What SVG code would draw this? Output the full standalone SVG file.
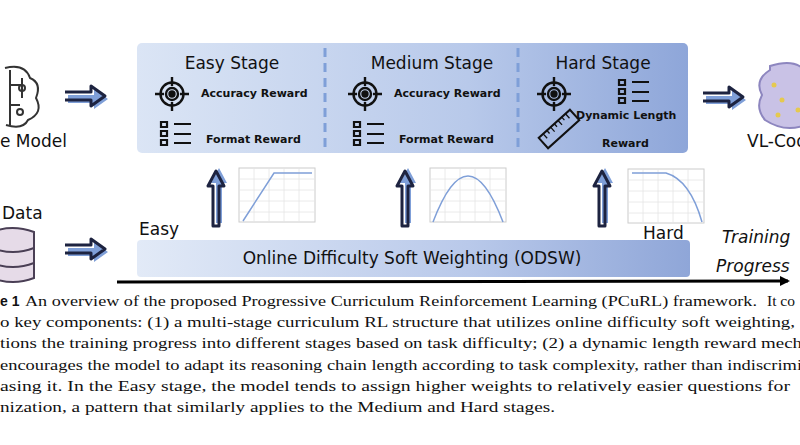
<svg xmlns="http://www.w3.org/2000/svg" width="800" height="445" viewBox="0 0 800 445">
<defs>
<linearGradient id="gp" x1="0" x2="1" y1="0" y2="0"><stop offset="0" stop-color="#dbe5f5"/><stop offset="0.6" stop-color="#b8c9ea"/><stop offset="1" stop-color="#8ea6d9"/></linearGradient>
<linearGradient id="gb" x1="0" x2="1" y1="0" y2="0"><stop offset="0" stop-color="#e2eaf7"/><stop offset="0.6" stop-color="#b9c9ea"/><stop offset="1" stop-color="#8fa6d8"/></linearGradient>
<marker id="ah" markerWidth="10" markerHeight="10" refX="8" refY="5" orient="auto" markerUnits="userSpaceOnUse"><path d="M0,0 L10,5 L0,10 Z" fill="#000"/></marker>
<g id="rarrow"><path d="M0,-4 H26 V-10 L40,0 L26,10 V4 H0 Z" fill="#7f9fd8" transform="translate(3,3)"/><path d="M0,-4 H26 V-10 L40,0 L26,10 V4 H0" fill="none" stroke="#1d2340" stroke-width="3" stroke-linejoin="round"/></g>
<g id="uarrow"><path d="M-3,0 V-40 H-8 L0,-55 L8,-40 H3 V0 Z" fill="#7f9fd8" transform="translate(3,-3)"/><path d="M-3,0 V-40 H-8 L0,-55 L8,-40 H3 V0 Z" fill="none" stroke="#1d2340" stroke-width="3" stroke-linejoin="round"/></g>
<g id="target" fill="none" stroke="#111" stroke-width="2.4"><circle r="11.5"/><circle r="6"/><circle r="2.5" fill="#111"/><path d="M0,-17 V-8 M0,8 V17 M-17,0 H-8 M8,0 H17"/></g>
<g id="list" fill="none" stroke="#111" stroke-width="2.2"><path d="M-13,-12 h6 v5 h-6 z M-13,-3 h6 v5 h-6 z M-13,6 h6 v5 h-6 z M0,-10 H17 M0,0 H17 M0,9 H17"/></g>
<g id="chartgrid"><rect width="76" height="54" fill="#fff" stroke="#ccc"/><path d="M15,0 V54 M30,0 V54 M45,0 V54 M60,0 V54 M0,11 H76 M0,22 H76 M0,33 H76 M0,44 H76" stroke="#e4e4e4" stroke-width="0.8"/></g>
</defs>
<style>
.t{font-family:"DejaVu Sans",sans-serif;fill:#111}
.ttl{font-size:17px}
.rw{font-size:11px;font-weight:bold}
.cap{font-family:"Liberation Serif",serif;font-size:15.5px;fill:#111}
.crv{fill:none;stroke:#7f9fd8;stroke-width:1.5}
</style>
<rect width="800" height="445" fill="#fff"/>

<g id="panel">
<rect x="137" y="43" width="551" height="110" rx="5" fill="url(#gp)"/>
<path d="M325,48 V150 M518,48 V150" stroke="#7f9fd8" stroke-width="3" stroke-dasharray="9,6"/>
<text class="t ttl" x="232" y="69" text-anchor="middle">Easy Stage</text>
<text class="t ttl" x="432" y="69" text-anchor="middle">Medium Stage</text>
<text class="t ttl" x="603" y="69" text-anchor="middle">Hard Stage</text>
<use href="#target" x="172" y="94"/><use href="#list" x="174" y="134"/>
<text class="t rw" x="201" y="97">Accuracy Reward</text><text class="t rw" x="206" y="143">Format Reward</text>
<use href="#target" x="365" y="94"/><use href="#list" x="367" y="134"/>
<text class="t rw" x="394" y="97">Accuracy Reward</text><text class="t rw" x="399" y="143">Format Reward</text>
<use href="#target" x="554" y="94"/><use href="#list" x="632" y="92"/>
<g transform="translate(559,129) rotate(-42)" fill="none" stroke="#111" stroke-width="2"><rect x="-21" y="-7" width="42" height="14"/><path d="M-15,-7 v6 M-10,-7 v4 M-5,-7 v6 M0,-7 v4 M5,-7 v6 M10,-7 v4 M15,-7 v6" stroke-width="1.3"/></g>
<text class="t rw" x="576" y="119">Dynamic Length</text><text class="t rw" x="602" y="147">Reward</text>
</g>

<g id="base-model">
<g fill="none" stroke="#333" stroke-width="2"><path d="M5,68 q20,-5 25,10 q12,5 6,20 q8,15 -8,22 q-5,10 -22,5"/><path d="M10,70 V125 M10,85 H22 M10,105 H20 M22,78 v20"/><circle cx="22" cy="88" r="3"/><circle cx="20" cy="112" r="3"/></g>
<text class="t" x="0" y="147" font-size="17">e Model</text>
</g>
<g id="data">
<text class="t" x="2" y="219" font-size="17">Data</text>
<g fill="#e6dbe8" stroke="#4a3f55" stroke-width="2"><path d="M-8,232 q20,-8 42,0 V278 q-21,8 -42,0 Z"/><path d="M-8,248 q21,8 42,0 M-8,263 q21,8 42,0" fill="none"/></g>
</g>
<g id="vl-model">
<g fill="#c9c2e6" stroke="#8d86bf" stroke-width="2"><path d="M770,66 q25,-8 35,5 V125 q-20,8 -40,-5 q-10,-12 -3,-25 q-8,-15 8,-25 Z"/></g>
<g fill="#e5c94f"><circle cx="774" cy="85" r="2.5"/><circle cx="782" cy="100" r="2.5"/><circle cx="778" cy="115" r="2.5"/><circle cx="798" cy="110" r="2.5"/></g>
<text class="t" x="747" y="147" font-size="17">VL-Cod</text>
</g>

<g id="odsw">
<rect x="137" y="240" width="553" height="37" rx="4" fill="url(#gb)"/>
<text class="t" x="412" y="264" font-size="17" text-anchor="middle">Online Difficulty Soft Weighting (ODSW)</text>
<text class="t" x="139" y="235" font-size="17">Easy</text>
<text class="t" x="643" y="239" font-size="17">Hard</text>
<text class="t" x="722" y="243" font-size="17" font-style="italic">Training</text>
<text class="t" x="716" y="272" font-size="17" font-style="italic">Progress</text>
</g>

<g id="charts">
<use href="#chartgrid" x="239" y="168"/><path class="crv" d="M243,221 L274,173 H312"/>
<use href="#chartgrid" x="430" y="168"/><path class="crv" d="M433,222 Q468,130 503,222"/>
<use href="#chartgrid" x="628" y="169"/><path class="crv" d="M632,173 H666 Q690,180 702,222"/>
</g>

<g id="connectors">
<use href="#rarrow" x="65" y="96"/>
<use href="#rarrow" x="65" y="249"/>
<use href="#rarrow" x="703" y="97"/>
<use href="#uarrow" x="216" y="226"/>
<use href="#uarrow" x="405" y="226"/>
<use href="#uarrow" x="602" y="226"/>
<path d="M117,282 L788,281" stroke="#000" stroke-width="3" marker-end="url(#ah)"/>
</g>

<g id="caption">
<text class="cap" x="0" y="306"><tspan font-family="Liberation Sans,sans-serif" font-weight="bold" font-size="14">e 1</tspan></text>
<text class="cap" x="25" y="306" textLength="732" lengthAdjust="spacingAndGlyphs">An overview of the proposed Progressive Curriculum Reinforcement Learning (PCuRL) framework.</text>
<text class="cap" x="767" y="306">It co</text>
<text class="cap" x="0" y="327" textLength="795" lengthAdjust="spacingAndGlyphs">o key components: (1) a multi-stage curriculum RL structure that utilizes online difficulty soft weighting,</text>
<text class="cap" x="0" y="348" textLength="802" lengthAdjust="spacingAndGlyphs">tions the training progress into different stages based on task difficulty; (2) a dynamic length reward mech</text>
<text class="cap" x="0" y="370" textLength="802" lengthAdjust="spacingAndGlyphs">encourages the model to adapt its reasoning chain length according to task complexity, rather than indiscrimi</text>
<text class="cap" x="0" y="391" textLength="790" lengthAdjust="spacingAndGlyphs">asing it.  In the Easy stage, the model tends to assign higher weights to relatively easier questions for</text>
<text class="cap" x="0" y="412" textLength="555" lengthAdjust="spacingAndGlyphs">nization, a pattern that similarly applies to the Medium and Hard stages.</text>
</g>
</svg>
